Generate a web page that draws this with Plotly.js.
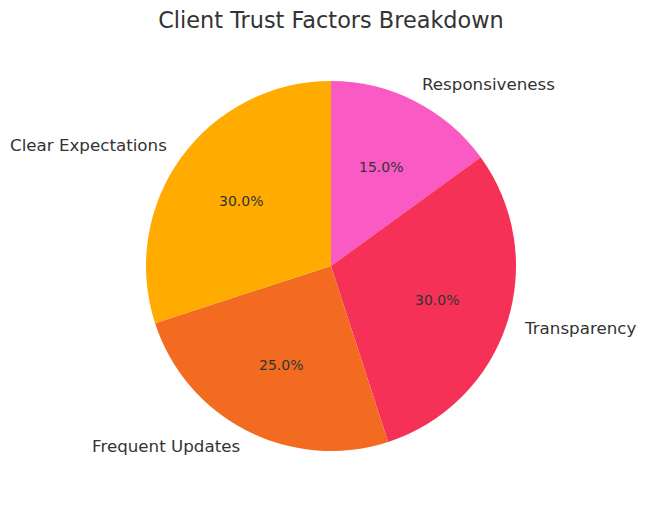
<!DOCTYPE html>
<html>
<head>
<meta charset="utf-8">
<script src="https://cdn.plot.ly/plotly-3.0.1.min.js"></script>
<style>
  html, body { margin: 0; padding: 0; background: #fff; }
  #trust_pie { width: 646px; height: 507px; }
</style>
</head>
<body>
<div id="trust_pie"></div>
<script>
// data, listed clockwise from 12 o'clock
var factors = ['Responsiveness', 'Transparency', 'Frequent Updates', 'Clear Expectations'];
var shares = [15, 30, 25, 30];
var sliceColors = ['#F95AC3', '#F53157', '#F26B21', '#FFAB00'];

var W = 646, H = 507;
var cx = 331, cy = 266, R = 185;   // pie centre and radius, pixels

var pie = {
    type: 'pie',
    labels: factors,
    values: shares,
    sort: false,
    direction: 'clockwise',
    rotation: 0,
    textinfo: 'none',
    hoverinfo: 'label+percent',
    marker: { colors: sliceColors, line: { width: 0 } },
    domain: {
        x: [(cx - R) / W, (cx + R) / W],
        y: [1 - (cy + R) / H, 1 - (cy - R) / H]
    }
};

// label positions worked out from the slice angles, like matplotlib does
var total = shares.reduce(function(a, b) { return a + b; }, 0);
var notes = [];
var angle = 90;
for (var i = 0; i < shares.length; i++) {
    var sweep = 360 * shares[i] / total;
    var mid = (angle - sweep / 2) * Math.PI / 180;
    angle -= sweep;
    var ux = Math.cos(mid), uy = Math.sin(mid);

    notes.push({
        xref: 'paper', yref: 'paper',
        x: (cx + 0.6 * R * ux) / W,
        y: 1 - (cy - 0.6 * R * uy) / H,
        text: (100 * shares[i] / total).toFixed(1) + '%',
        showarrow: false,
        borderpad: 0,
        xanchor: 'center', yanchor: 'middle',
        font: { family: 'DejaVu Sans', size: 14, color: '#333333' }
    });
    notes.push({
        xref: 'paper', yref: 'paper',
        x: (cx + 1.1 * R * ux) / W,
        y: 1 - (cy - 1.1 * R * uy) / H,
        text: factors[i],
        showarrow: false,
        borderpad: 0,
        xshift: ux > 0 ? -2 : 2,
        yshift: 1,
        xanchor: ux > 0 ? 'left' : 'right', yanchor: 'middle',
        font: { family: 'DejaVu Sans', size: 16.7, color: '#333333' }
    });
}

var layout = {
    width: W, height: H,
    margin: { l: 0, r: 0, t: 0, b: 0 },
    paper_bgcolor: '#ffffff',
    showlegend: false,
    title: {
        text: 'Client Trust Factors Breakdown',
        x: cx / W, xanchor: 'center',
        y: 1 - 20 / H, yanchor: 'middle',
        font: { family: 'DejaVu Sans', size: 22.4, color: '#333333' }
    },
    annotations: notes
};

Plotly.newPlot('trust_pie', [pie], layout, { displayModeBar: false, staticPlot: true });
</script>
</body>
</html>
